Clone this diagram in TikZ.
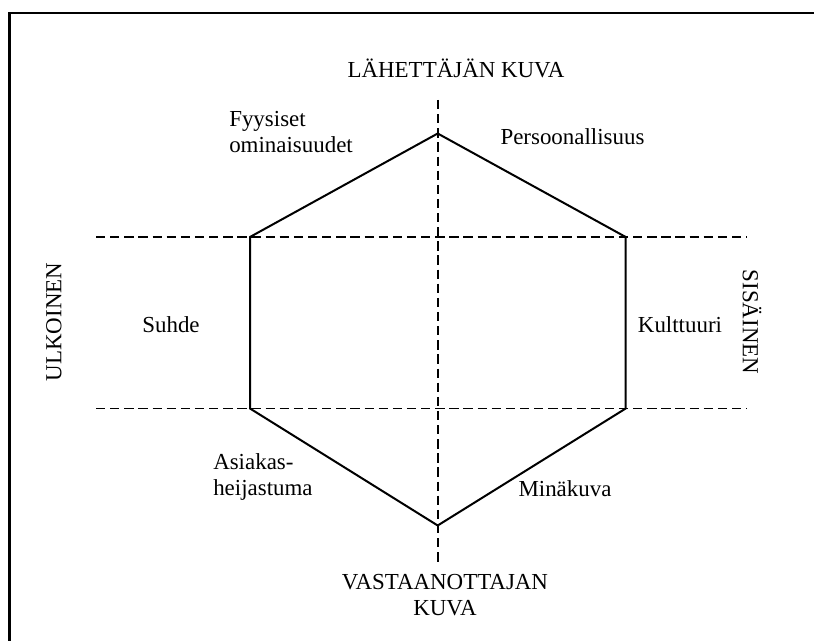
\documentclass[tikz,border=0pt]{standalone}
\usepackage{fontspec}
\setmainfont{Liberation Serif}
\begin{document}
\begin{tikzpicture}[x=0.75pt,y=-0.75pt,
  lbl/.style={inner sep=0pt,font=\fontsize{17.2}{19.5}\selectfont},
  hexline/.style={line width=1.5pt,line join=miter},
  axis/.style={line width=1.3pt,dash pattern=on 7pt off 3.6pt},
  frameline/.style={line width=2pt}]
\useasboundingbox (0,0) rectangle (814,641);
% frame (right and bottom edges lie outside the picture)
\coordinate (f1) at (9.5,641);
\coordinate (f2) at (9.5,13);
\coordinate (f3) at (814,13);
\draw[frameline] (f1) -- (f2) -- (f3);
% axes
\coordinate (vt) at (437.7,100);
\coordinate (vb) at (437.7,563);
\coordinate (h1l) at (96,237);
\coordinate (h1r) at (747,237);
\coordinate (h2l) at (96,408.5);
\coordinate (h2r) at (747,408.5);
\draw[axis] (vt) -- (vb);
\draw[axis] (h1l) -- (h1r);
\draw[axis] (h2l) -- (h2r);
% hexagon
\coordinate (T) at (437.7,133.5);
\coordinate (UR) at (625.7,237);
\coordinate (LR) at (625.7,408.5);
\coordinate (B) at (437.7,525.5);
\coordinate (LL) at (250,408.5);
\coordinate (UL) at (250,237);
\draw[hexline] (T) -- (UR) -- (LR) -- (B) -- (LL) -- (UL) -- cycle;
% labels
\node[lbl,anchor=base] (top) at (456,77.5) {LÄHETTÄJÄN KUVA};
\node[lbl,anchor=base,align=center] (bottom) at (445,615.5) {VASTAANOTTAJAN\\KUVA};
\node[lbl,anchor=base west,align=left] (fyy) at (229,153) {Fyysiset\\ominaisuudet};
\node[lbl,anchor=base] (per) at (572.5,145) {Persoonallisuus};
\node[lbl,anchor=base] (suh) at (171,333) {Suhde};
\node[lbl,anchor=base] (kul) at (680,333) {Kulttuuri};
\node[lbl,anchor=base west,align=left] (asi) at (213,495) {Asiakas-\\heijastuma};
\node[lbl,anchor=base] (min) at (565,496) {Minäkuva};
\node[lbl,rotate=90] (ulk) at (54,322) {ULKOINEN};
\node[lbl,rotate=-90] (sis) at (752,322) {SISÄINEN};
\end{tikzpicture}
\end{document}
